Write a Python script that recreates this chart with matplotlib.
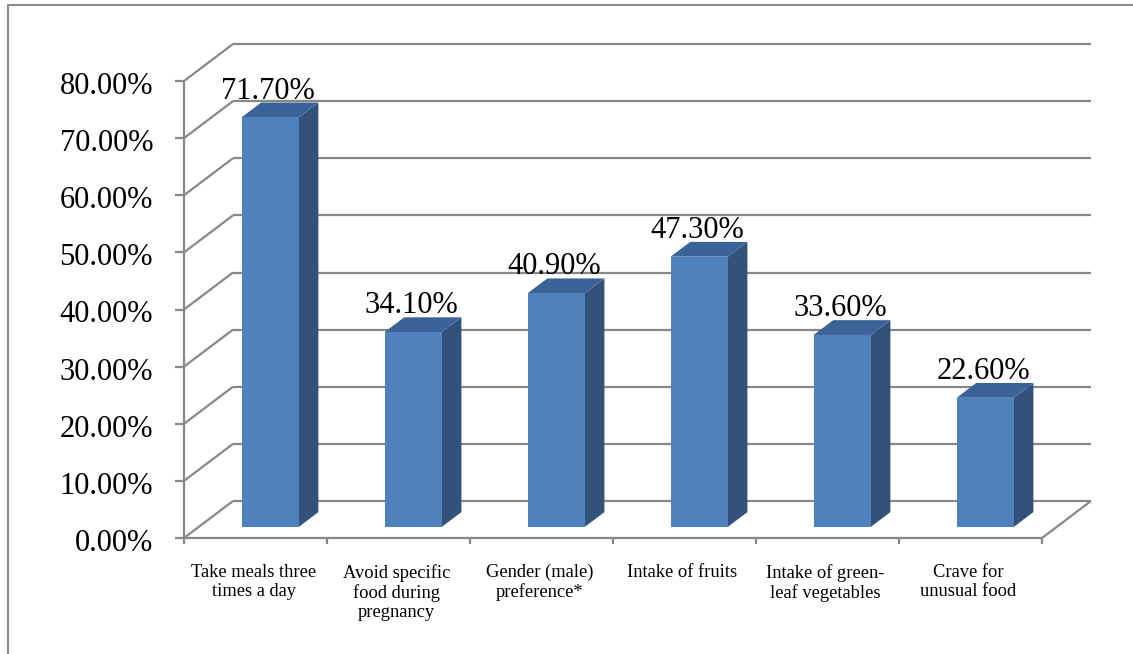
import matplotlib
matplotlib.use("Agg")
import matplotlib.pyplot as plt
from matplotlib.patches import Polygon
from matplotlib.lines import Line2D
from matplotlib.transforms import IdentityTransform
import numpy as np

categories = ["Take meals three\ntimes a day",
              "Avoid specific\nfood during\npregnancy",
              "Gender (male)\npreference*",
              "Intake of fruits",
              "Intake of green-\nleaf vegetables",
              "Crave for\nunusual food"]
values = [71.7, 34.1, 40.9, 47.3, 33.6, 22.6]
value_labels = ["71.70%", "34.10%", "40.90%", "47.30%", "33.60%", "22.60%"]
yticks = [0, 10, 20, 30, 40, 50, 60, 70, 80]
ytick_labels = ["%.2f%%" % t for t in yticks]

W, H, DPI = 1133, 654, 100
fig = plt.figure(figsize=(W / DPI, H / DPI), dpi=DPI)
fig.patch.set_facecolor("white")

# front plane of the 3D box
left, right, bottom, top = 184, 1042, 538, 81
ax = fig.add_axes([left / W, 1 - bottom / H, (right - left) / W, (bottom - top) / H])
ax.set_xlim(0, len(categories))
ax.set_ylim(0, 80)
ax.axis("off")

DX, DY = 49.0, 37.0  # depth offset in pixels
GRID = "#888888"
serif = ["Liberation Serif", "DejaVu Serif"]

fig.canvas.draw()


def P(x, y, d=0.0):
    px, py = ax.transData.transform((x, y))
    return (px + d * DX, py + d * DY)


ident = IdentityTransform()


def line(p0, p1, lw=1.6, color=GRID, z=1):
    fig.add_artist(Line2D([p0[0], p1[0]], [p0[1], p1[1]], transform=ident,
                          color=color, lw=lw, zorder=z, solid_capstyle="butt"))


# outer frame (partially cropped)
fig.add_artist(Line2D([8, 8, W], [0, H - 5, H - 5], transform=ident,
                      color="#8c8c8c", lw=1.5, zorder=0))

n = len(categories)
# back wall gridlines and left wall diagonals
for t in yticks:
    line(P(0, t, 1), P(n, t, 1))
    line(P(0, t, 0), P(0, t, 1))
# floor right edge
line(P(n, 0, 0), P(n, 0, 1))
# front axes
line(P(0, 0, 0), P(n, 0, 0), z=3)
line(P(0, 0, 0), P(0, 80, 0), z=3)
for t, lab in zip(yticks, ytick_labels):
    p = P(0, t, 0)
    line((p[0] - 9, p[1]), p, z=3)
    fig.text(p[0] - 31, p[1] - 13, lab, transform=ident, ha="right", va="baseline",
             fontsize=22, family=serif, color="black")
for i in range(n + 1):
    p = P(i, 0, 0)
    line(p, (p[0], p[1] - 6), z=3)

# bars
bw = 0.4
d0, d1 = 0.3, 0.7
FRONT, SIDE, TOPC = "#4F81BD", "#32527C", "#3C6398"
for i, (v, lab) in enumerate(zip(values, value_labels)):
    x0, x1 = i + 0.5 - bw / 2, i + 0.5 + bw / 2
    front = [P(x0, 0, d0), P(x1, 0, d0), P(x1, v, d0), P(x0, v, d0)]
    side = [P(x1, 0, d0), P(x1, 0, d1), P(x1, v, d1), P(x1, v, d0)]
    topf = [P(x0, v, d0), P(x1, v, d0), P(x1, v, d1), P(x0, v, d1)]
    for poly, c in ((side, SIDE), (topf, TOPC), (front, FRONT)):
        fig.add_artist(Polygon(poly, closed=True, transform=ident, facecolor=c,
                               edgecolor="none", zorder=5))
    pc = P(i + 0.5, v, d1)
    pf = P(i + 0.5, v, d0)
    fig.text(pf[0] - 2, pc[1] + 4, lab, transform=ident, ha="center", va="baseline",
             fontsize=22, family=serif, color="black", zorder=6)
    pl = P(i + 0.5, 0, 0)
    fig.text(pl[0] - 2, pl[1] - 26, categories[i], transform=ident, ha="center",
             va="top", fontsize=13.3, family=serif, color="black", linespacing=1.15,
             multialignment="center")

fig.savefig("out.png", dpi=DPI, facecolor="white")
